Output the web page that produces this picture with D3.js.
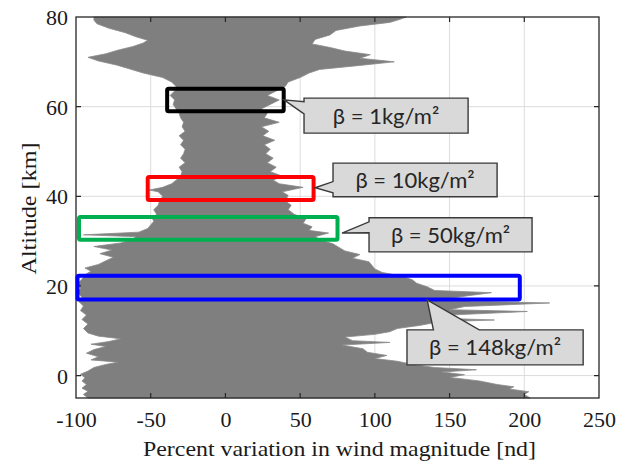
<!DOCTYPE html>
<html>
<head>
<meta charset="utf-8">
<script src="https://cdn.jsdelivr.net/npm/d3@7"></script>
<style>
  body { margin: 0; background: #fff; }
  svg { display: block; }
  .serif { font-family: "Liberation Serif", "Times New Roman", Times, "DejaVu Serif", serif; }
  .call { font-family: Lato, "Open Sans", sans-serif; }
</style>
</head>
<body>
<div id="chart"></div>
<script>
// envelope of the wind dispersion runs (altitude km, percent variation)
const rightAlt = [-5, -4.2, -3.6, -3, -2.5, -2, -1.2, -0.4, 0.2, 0.8, 1.3, 1.8, 2.5, 3.2, 3.8, 4.5, 5.2, 6, 6.8, 7.4, 7.8, 8.6, 9.2, 9.8, 10.5, 11.2, 12, 12.4, 12.8, 13.5, 14.3, 14.7, 15.4, 16.2, 16.6, 17.2, 17.8, 18.5, 19, 19.8, 20.6, 21.4, 22.2, 23, 23.8, 24.6, 25.4, 26.2, 27, 27.8, 28.6, 29.4, 30.2, 31, 31.8, 32.4, 33.2, 34, 35, 36, 37, 38, 39, 40.2, 41, 42, 42.8, 43.6, 44.5, 45.5, 46.5, 47.5, 48.5, 49.5, 50.5, 51.5, 52.5, 53.5, 54.5, 55.5, 56.5, 57.5, 58.5, 59.5, 60.5, 61.5, 62.5, 63.5, 64.5, 65.5, 66.5, 67.5, 68.3, 69.2, 70, 70.8, 71.6, 72.4, 73.2, 74, 75, 76, 77, 78, 78.8, 79.5, 80];
const rightVal = [204, 200, 203, 190, 193, 182, 170, 150, 160, 145, 168, 140, 125, 115, 100, 108, 95, 92, 78, 110, 85, 80, 100, 110, 115, 130, 143, 180, 145, 150, 202, 150, 160, 217, 165, 150, 162, 178, 140, 135, 128, 125, 118, 105, 100, 98, 96, 85, 90, 80, 76, 72, 64, 60, 69, 56, 58, 52, 54, 46, 42, 44, 40, 42, 38, 52, 36, 32, 38, 30, 34, 28, 32, 27, 30, 26, 33, 25, 29, 24, 36, 26, 28, 24, 30, 36, 28, 34, 40, 42, 50, 56, 63, 90, 113, 90, 97, 80, 70, 58, 60, 70, 74, 90, 110, 117, 121];

const leftAlt = [-5, -4.2, -3.5, -2.8, -2, -1.2, -0.5, 0.3, 1, 1.8, 2.5, 3, 3.5, 4.2, 5, 5.8, 6.5, 7, 7.6, 8.2, 8.8, 9.5, 10.5, 11.5, 12.5, 13.5, 14.5, 15.5, 16.5, 17.5, 18.5, 19.5, 20.5, 21.5, 22.5, 23.3, 24, 24.8, 25.6, 26.4, 27.2, 28, 28.8, 29.6, 30.4, 31, 31.4, 32, 32.8, 33.6, 34.4, 35.2, 36, 37, 38, 39, 40, 41, 41.4, 42, 42.8, 43.6, 44.5, 45.5, 46.5, 47.5, 48.5, 49.5, 50.5, 51.5, 52.5, 53.5, 54.5, 55.5, 56.5, 57.5, 58.5, 59.5, 60.5, 61.5, 62.5, 63.5, 64.5, 65.5, 66.5, 67.5, 68.5, 69.3, 70.2, 71, 71.8, 72.6, 73.4, 74.2, 74.8, 75.6, 76.5, 77.5, 78.5, 79.3, 80];
const leftVal = [-92, -95, -92, -96, -93, -96, -94, -97, -92, -88, -80, -72, -90, -85, -93, -88, -80, -90, -78, -70, -85, -92, -95, -92, -96, -93, -97, -95, -98, -96, -99, -97, -99, -96, -94, -90, -94, -85, -80, -75, -84, -76, -88, -70, -62, -60, -95, -58, -52, -50, -48, -49, -46, -48, -45, -44, -42, -45, -51, -42, -36, -33, -30, -29, -31, -27, -30, -28, -27, -30, -28, -31, -27, -29, -28, -30, -31, -33, -35, -34, -37, -34, -33, -36, -42, -55, -65, -73, -85, -92, -80, -72, -62, -55, -52, -60, -67, -78, -86, -88, -88];

// highlighted altitude bands
const bandLabels = ["β = 1kg/m²", "β = 10kg/m²", "β = 50kg/m²", "β = 148kg/m²"];
const bandColors = ["#000000", "#ff0000", "#00b050", "#0000ff"];
const bandX0 = [-39, -52, -98, -99];
const bandX1 = [39, 59, 75, 197];
const bandY0 = [59, 39.2, 30.3, 17];
const bandY1 = [64, 44.3, 35.4, 22.3];

const xTicks = [-100, -50, 0, 50, 100, 150, 200, 250];
const yTicks = [0, 20, 40, 60, 80];

const width = 619, height = 466;
const margin = { top: 17, right: 20, bottom: 68, left: 76 };

const svg = d3.select("#chart").append("svg")
  .attr("width", width)
  .attr("height", height);

const x = d3.scaleLinear().domain([-100, 250]).range([margin.left, width - margin.right]);
const y = d3.scaleLinear().domain([-5, 80]).range([height - margin.bottom, margin.top]);

// grid
svg.append("g").selectAll("line").data(xTicks.slice(1, -1)).enter().append("line")
  .attr("x1", d => x(d)).attr("x2", d => x(d))
  .attr("y1", y(-5)).attr("y2", y(80))
  .attr("stroke", "#dcdcdc").attr("stroke-width", 1);
svg.append("g").selectAll("line").data(yTicks.slice(0, -1)).enter().append("line")
  .attr("x1", x(-100)).attr("x2", x(250))
  .attr("y1", d => y(d)).attr("y2", d => y(d))
  .attr("stroke", "#dcdcdc").attr("stroke-width", 1);

// envelope: up the right edge, down the left edge
const pts = rightAlt.map((a, i) => [rightVal[i], a])
  .concat(leftAlt.map((a, i) => [leftVal[i], a]).reverse());
svg.append("path")
  .attr("d", d3.line().x(d => x(d[0])).y(d => y(d[1]))(pts) + "Z")
  .attr("fill", "#7f7f7f")
  .attr("stroke", "#8a8a8a")
  .attr("stroke-width", 0.8);

// frame and ticks (mirrored, inward)
svg.append("rect")
  .attr("x", x(-100)).attr("y", y(80))
  .attr("width", x(250) - x(-100)).attr("height", y(-5) - y(80))
  .attr("fill", "none").attr("stroke", "#262626").attr("stroke-width", 1.3);

const xAxis = svg.append("g")
  .attr("transform", `translate(0,${y(-5)})`)
  .call(d3.axisBottom(x).tickValues(xTicks).tickFormat(d => String(d)).tickSize(0).tickPadding(13));
const yAxis = svg.append("g")
  .attr("transform", `translate(${x(-100)},0)`)
  .call(d3.axisLeft(y).tickValues(yTicks).tickFormat(d => String(d)).tickSize(0).tickPadding(8));
[xAxis, yAxis].forEach(g => {
  g.attr("font-family", null).attr("font-size", null);
  g.select(".domain").remove();
  g.selectAll("text")
    .attr("class", "serif")
    .style("font-size", "22px")
    .attr("fill", "#1a1a1a");
});
yAxis.selectAll("text").attr("dy", "0.34em");

const tk = 5;
svg.append("g").selectAll("path").data(xTicks.slice(1, -1)).enter().append("path")
  .attr("d", d => `M${x(d)},${y(-5)}v${-tk}M${x(d)},${y(80)}v${tk}`)
  .attr("stroke", "#262626").attr("stroke-width", 1.2);
svg.append("g").selectAll("path").data(yTicks.slice(0, -1)).enter().append("path")
  .attr("d", d => `M${x(-100)},${y(d)}h${tk}M${x(250)},${y(d)}h${-tk}`)
  .attr("stroke", "#262626").attr("stroke-width", 1.2);

// axis titles
svg.append("text")
  .attr("class", "serif")
  .attr("x", 143)
  .attr("y", 456)
  .attr("textLength", 393)
  .attr("lengthAdjust", "spacingAndGlyphs")
  .style("font-size", "22px")
  .attr("fill", "#1a1a1a")
  .text("Percent variation in wind magnitude [nd]");
svg.append("text")
  .attr("class", "serif")
  .attr("transform", `translate(36,${(y(80) + y(-5)) / 2 + 1})rotate(-90)`)
  .attr("text-anchor", "middle")
  .attr("textLength", 132)
  .attr("lengthAdjust", "spacingAndGlyphs")
  .style("font-size", "21px")
  .attr("fill", "#1a1a1a")
  .text("Altitude [km]");

// band boxes
svg.append("g").selectAll("rect").data(bandLabels).enter().append("rect")
  .attr("x", (d, i) => x(bandX0[i]))
  .attr("y", (d, i) => y(bandY1[i]))
  .attr("width", (d, i) => x(bandX1[i]) - x(bandX0[i]))
  .attr("height", (d, i) => y(bandY0[i]) - y(bandY1[i]))
  .attr("rx", 1.5)
  .attr("fill", "none")
  .attr("stroke", (d, i) => bandColors[i])
  .attr("stroke-width", 4);

// callouts: box in data units, wedge tip on the band box
const callX0 = [52.6, 72, 96.1, 121.5];
const callX1 = [162.4, 181.8, 205.2, 239.4];
const callTop = [61.9, 47.4, 35.2, 10.2];
const callBot = [54.1, 39.9, 27.6, 2.4];
const tipX = [39.2, 60, 78, 135];
const tipY = [61.5, 41.9, 31.8, 16.9];
const wedgeSide = ["left", "left", "left", "top"];
const wedgeA = [0.1, 0.55, 0.12, 0.15];
const wedgeB = [0.45, 0.88, 0.44, 0.41];

bandLabels.forEach((lab, i) => {
  const x0 = x(callX0[i]), x1 = x(callX1[i]);
  const y0 = y(callTop[i]), y1 = y(callBot[i]);
  const tx = x(tipX[i]), ty = y(tipY[i]);
  let d;
  if (wedgeSide[i] === "left") {
    const a = y0 + (y1 - y0) * wedgeA[i], b = y0 + (y1 - y0) * wedgeB[i];
    d = `M${x0},${y0}H${x1}V${y1}H${x0}V${b}L${tx},${ty}L${x0},${a}Z`;
  } else {
    const a = x0 + (x1 - x0) * wedgeA[i], b = x0 + (x1 - x0) * wedgeB[i];
    d = `M${x0},${y0}H${a}L${tx},${ty}L${b},${y0}H${x1}V${y1}H${x0}Z`;
  }
  svg.append("path")
    .attr("d", d)
    .attr("fill", "#d9d9d9")
    .attr("stroke", "#3a3a3a")
    .attr("stroke-width", 1.4);
  svg.append("text")
    .attr("class", "call")
    .attr("x", (x0 + x1) / 2)
    .attr("y", (y0 + y1) / 2)
    .attr("dy", "0.36em")
    .attr("text-anchor", "middle")
    .style("font-size", "22px")
    .attr("fill", "#262626")
    .text(lab);
});
</script>
</body>
</html>
